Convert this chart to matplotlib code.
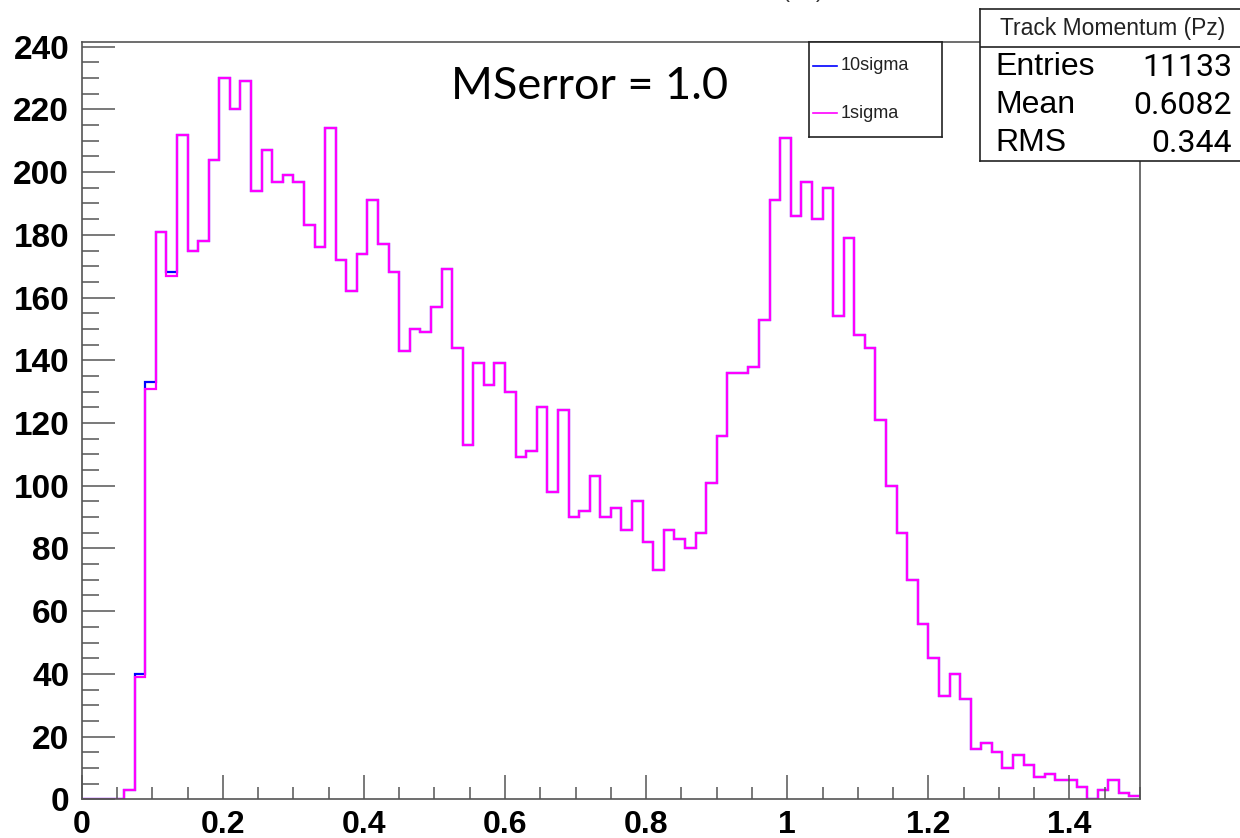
import numpy as np
import matplotlib as mpl
mpl.use('Agg')
import matplotlib.pyplot as plt
from matplotlib.ticker import MultipleLocator

# Histogram contents, 100 bins from 0 to 1.5
x_min, x_max, n_bins = 0.0, 1.5, 100

counts_1sigma = [
    0, 0, 0, 0, 3, 39, 131, 181, 167, 212,
    175, 178, 204, 230, 220, 229, 194, 207, 197, 199,
    197, 183, 176, 214, 172, 162, 174, 191, 177, 168,
    143, 150, 149, 157, 169, 144, 113, 139, 132, 139,
    130, 109, 111, 125, 98, 124, 90, 92, 103, 90,
    93, 86, 95, 82, 73, 86, 83, 80, 85, 101,
    116, 136, 136, 138, 153, 191, 211, 186, 197, 185,
    195, 154, 179, 148, 144, 121, 100, 85, 70, 56,
    45, 33, 40, 32, 16, 18, 15, 10, 14, 11,
    7, 8, 6, 6, 4, 0, 3, 6, 2, 1,
]
counts_10sigma = [
    0, 0, 0, 0, 3, 40, 133, 181, 168, 212,
    175, 178, 204, 230, 220, 229, 194, 207, 197, 199,
    197, 183, 176, 214, 172, 162, 174, 191, 177, 168,
    143, 150, 149, 157, 169, 144, 113, 139, 132, 139,
    130, 109, 111, 125, 98, 124, 90, 92, 103, 90,
    93, 86, 95, 82, 73, 86, 83, 80, 85, 101,
    116, 136, 136, 138, 153, 191, 211, 186, 197, 185,
    195, 154, 179, 148, 144, 121, 100, 85, 70, 56,
    45, 33, 40, 32, 16, 18, 15, 10, 14, 11,
    7, 8, 6, 6, 4, 0, 3, 6, 2, 1,
]

stats_title = 'Track Momentum (Pz)'
stats_rows = [('Entries', '11133'), ('Mean', '0.6082'), ('RMS', '0.344')]
legend_labels = ['10sigma', '1sigma']
annotation = 'MSerror = 1.0'

W, H, DPI = 1240, 838, 100
AXIS_COLOR = '#555555'

plt.rcParams['font.family'] = ['Liberation Sans', 'DejaVu Sans']

fig = plt.figure(figsize=(W / DPI, H / DPI), dpi=DPI)
fig.patch.set_facecolor('white')

# Axes placed in pixel coordinates of the reference
ax_l, ax_r, ax_t, ax_b = 81.7, 1140, 42, 799.3
ax = fig.add_axes([ax_l / W, 1 - ax_b / H, (ax_r - ax_l) / W, (ax_b - ax_t) / H])

edges = np.linspace(x_min, x_max, n_bins + 1)
ax.stairs(counts_10sigma, edges, baseline=None, color='#0000ff', linewidth=1.6)
ax.stairs(counts_1sigma, edges, baseline=None, color='#ff00ff', linewidth=1.6)

ax.set_xlim(x_min, x_max)
ax.set_ylim(0, 1.05 * max(counts_10sigma))

# ROOT style ticks, inside, left and bottom only
ax.xaxis.set_major_locator(MultipleLocator(0.2))
ax.xaxis.set_minor_locator(MultipleLocator(0.05))
ax.yaxis.set_major_locator(MultipleLocator(20))
ax.yaxis.set_minor_locator(MultipleLocator(5))
ax.tick_params(axis='x', which='major', direction='in', length=17, width=1.1,
               color=AXIS_COLOR, pad=8, labelsize=23)
ax.tick_params(axis='x', which='minor', direction='in', length=9, width=1.1,
               color=AXIS_COLOR)
ax.tick_params(axis='y', which='major', direction='in', length=24, width=1.1,
               color=AXIS_COLOR, pad=9, labelsize=24)
ax.tick_params(axis='y', which='minor', direction='in', length=12, width=1.1,
               color=AXIS_COLOR)
ax.set_xticks(np.arange(0, 1.41, 0.2))
ax.set_xticklabels(['0', '0.2', '0.4', '0.6', '0.8', '1', '1.2', '1.4'])
for lab in ax.get_xticklabels() + ax.get_yticklabels():
    lab.set_fontweight('bold')
for s in ax.spines.values():
    s.set_color(AXIS_COLOR)
    s.set_linewidth(1.2)

ax.text(0.3485, 0.925, annotation, transform=ax.transAxes, ha='left',
        va='baseline', fontsize=32.5, family='Lato', color='black')

# Clipped histogram title at the very top
fig.text(823 / W, 1 + 3 / H, stats_title, ha='right', va='baseline',
         fontsize=16, color='#333333')

# Legend box
lx0, lx1, ly0, ly1 = 809, 942, 42, 137
leg = fig.add_axes([lx0 / W, 1 - ly1 / H, (lx1 - lx0) / W, (ly1 - ly0) / H])
leg.set_xlim(lx0, lx1)
leg.set_ylim(ly1, ly0)
leg.set_xticks([])
leg.set_yticks([])
for s in leg.spines.values():
    s.set_color('#222222')
    s.set_linewidth(1.2)
for label, color, y in zip(legend_labels, ['#0000ff', '#ff00ff'], [65.7, 113]):
    leg.plot([813, 837], [y, y], color=color, linewidth=1.2)
    leg.text(841, y, label, va='center', ha='left', fontsize=13,
             color='#222222')

# Stats box (clipped by the right edge)
sx0, sx1, sy0, sy1 = 980, 1250, 9, 161
st = fig.add_axes([sx0 / W, 1 - sy1 / H, (sx1 - sx0) / W, (sy1 - sy0) / H])
st.set_xlim(sx0, sx1)
st.set_ylim(sy1, sy0)
st.set_xticks([])
st.set_yticks([])
for s in st.spines.values():
    s.set_color('#222222')
    s.set_linewidth(1.2)
st.axhline(46.7, color='#222222', linewidth=1.2)
st.text(1113, 28, stats_title, ha='center', va='center', fontsize=16.5,
        color='#222222')
for (name, val), y in zip(stats_rows, [67, 105, 143]):
    st.text(995, y, name, ha='left', va='center', fontsize=23, color='black')
    st.text(1232, y, val, ha='right', va='center', fontsize=23,
            family='Roboto', color='black')

fig.savefig('out.png', dpi=DPI)
